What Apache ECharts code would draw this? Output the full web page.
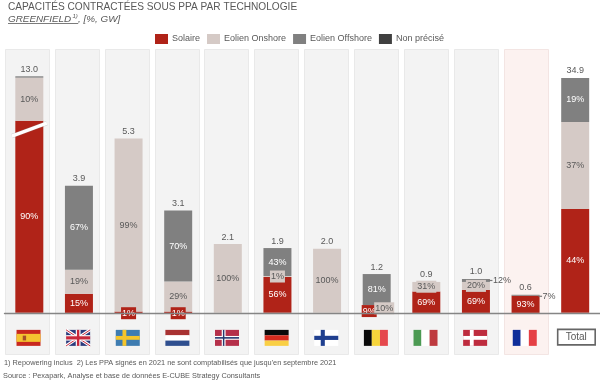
<!DOCTYPE html>
<html><head><meta charset="utf-8">
<style>html,body{margin:0;padding:0;background:#fff}#c{width:600px;height:381px}</style>
<script src="https://cdn.jsdelivr.net/npm/echarts@6/dist/echarts.min.js"></script>
</head><body><div id="c"></div>
<script>
// Countries (flag codes), in chart order
const categories = ['ES','GB','SE','NL','NO','DE','FI','BE','IT','DK','FR','Total'];
const totalLabels = ['13.0','3.9','5.3','3.1','2.1','1.9','2.0','1.2','0.9','1.0','0.6','34.9'];
// Drawn segment heights (the Spain and Total bars use a broken / compressed scale in the source)
const solaire  = [5.84,0.58,0.04,0.04,0,1.09,0,0.11,0.65,0.70,0.52,3.16];
const onshore  = [1.31,0.73,5.26,0.91,2.09,0.03,1.95,0.12,0.29,0.24,0,2.64];
const offshore = [0.04,2.55,0,2.16,0,0.85,0,0.95,0,0.09,0.03,1.34];
const nonPrecise = [0,0,0,0,0,0,0,0,0,0,0,0];
// Printed shares
const solaireLabels  = ['90%','15%','1%','1%','','56%','','9%','69%','69%','93%','44%'];
const onshoreLabels  = ['10%','19%','99%','29%','100%','1%','100%','10%','31%','20%','','37%'];
const offshoreLabels = ['','67%','','70%','','43%','','81%','','12%','7%','19%'];
const legendNames = ['Solaire','Eolien Onshore','Eolien Offshore','Non précisé'];

const RED='#B02318', BEIGE='#D5CAC6', GREY='#808080', DARK='#404040', TXT='#595959';
const FONT='"Liberation Sans", Arial, sans-serif';

function labelled(values, labels, textColor, special){
  return values.map((v,i)=>{
    const s=special[i]||{};
    return {value:v,label:Object.assign({show:!!labels[i] && !s.hide, formatter:labels[i]||' ', color:textColor, fontSize:9, fontFamily:FONT, position:'inside'},s)};
  });
}
const badge=(bg,fg,off)=>({backgroundColor:bg,color:fg,padding:[2,1,1,1],position:'inside',offset:off||[0,0]});
const solSpecial={2:badge(RED,'#fff',[0,1]),3:badge(RED,'#fff',[0,1]),7:badge(RED,'#fff',[-7.5,0])};
const onSpecial={5:badge(BEIGE,TXT),7:badge(BEIGE,TXT,[7.5,1]),8:badge(BEIGE,TXT),9:badge(BEIGE,TXT)};
const offSpecial={9:{hide:true},10:{hide:true}};

function barSeries(name,values,labels,color,textColor,special){
  return {name,type:'bar',stack:'s',barWidth:28,z:3,itemStyle:{color},
    data:labelled(values,labels,textColor,special)};
}

function flagShapes(code,cx,y0){
  const W=24,H=16,x0=cx-W/2;
  const R=(x,y,w,h,fill)=>({type:'rect',shape:{x:x0+x*W,y:y0+y*H,width:w*W,height:h*H},style:{fill}});
  const L=(a,b,c,d,stroke,lw)=>({type:'line',shape:{x1:x0+a*W,y1:y0+b*H,x2:x0+c*W,y2:y0+d*H},style:{stroke,lineWidth:lw}});
  const nordic=(bg,cross,inner)=>{
    const o=[R(0,0,1,1,bg),R(0,0.38,1,0.24,cross),R(0.28,0,0.16,1,cross)];
    if(inner) o.push(R(0,0.45,1,0.1,inner),R(0.33,0,0.06,1,inner));
    return o;
  };
  switch(code){
    case 'ES': return [R(0,0,1,1,'#C8281E'),R(0,0.25,1,0.5,'#F4C430'),R(0.26,0.36,0.14,0.3,'#A5502A')];
    case 'GB': return [R(0,0,1,1,'#2A3A7C'),L(0,0,1,1,'#fff',3),L(1,0,0,1,'#fff',3),L(0,0,1,1,'#C8283C',1),L(1,0,0,1,'#C8283C',1),
                       R(0.4,0,0.2,1,'#fff'),R(0,0.33,1,0.34,'#fff'),R(0.45,0,0.1,1,'#C8283C'),R(0,0.4,1,0.2,'#C8283C')];
    case 'SE': return nordic('#3E7CB1','#F5C52B');
    case 'NL': return [R(0,0,1,0.34,'#A83232'),R(0,0.34,1,0.33,'#fff'),R(0,0.67,1,0.33,'#2F4F8F')];
    case 'NO': return nordic('#B5304A','#fff','#26396F');
    case 'DE': return [R(0,0,1,0.34,'#0A0A0A'),R(0,0.34,1,0.33,'#D52B1E'),R(0,0.67,1,0.33,'#F9CF45')];
    case 'FI': return [R(0,0,1,1,'#fff'),R(0,0.37,1,0.26,'#1F3F8F'),R(0.27,0,0.17,1,'#1F3F8F')];
    case 'BE': return [R(0,0,0.33,1,'#0A0A0A'),R(0.33,0,0.34,1,'#F6D53C'),R(0.67,0,0.33,1,'#E5484D')];
    case 'IT': return [R(0,0,0.33,1,'#4C9A53'),R(0.33,0,0.34,1,'#fff'),R(0.67,0,0.33,1,'#BE3A3F')];
    case 'DK': return nordic('#BE2C3E','#fff');
    case 'FR': return [R(0,0,0.33,1,'#0F2E9A'),R(0.33,0,0.34,1,'#fff'),R(0.67,0,0.33,1,'#E54045')];
  }
  return [];
}

const idx=categories.map((_,i)=>i);

const panelSeries={type:'custom',z:1,silent:true,data:idx.slice(0,11),
  renderItem(p,api){
    const i=api.value(0), a=api.coord([i,8.02]), b=api.coord([i,-1.25]);
    const fr=categories[i]==='FR';
    const pcx=a[0]-2.3+0.23*i;
    return {type:'rect',shape:{x:Math.round(pcx-22)+.5,y:a[1]+.5,width:44,height:b[1]-a[1]},
      style:{fill:fr?'#FCF2F0':'#F3F3F3',stroke:fr?'#F3E5E3':'#E9E9E9',lineWidth:1}};
  },encode:{x:0,y:-1}};

const overlaySeries={type:'custom',z:6,silent:true,data:idx,
  renderItem(p,api){
    const i=api.value(0), base=api.coord([i,0]), cx=base[0];
    const top=solaire[i]+onshore[i]+offshore[i]+nonPrecise[i];
    const t=api.coord([i,top]);
    const kids=[{type:'text',style:{text:totalLabels[i],x:cx,y:t[1]-7,align:'center',verticalAlign:'middle',fill:TXT,font:'9px '+FONT}}];
    if(categories[i]==='Total'){
      kids.push({type:'rect',shape:{x:cx-17.5,y:base[1]+16.5,width:37.5,height:15.5},style:{fill:'#fff',stroke:'#666',lineWidth:1.6}});
      kids.push({type:'text',style:{text:'Total',x:cx+1,y:base[1]+24.5,align:'center',verticalAlign:'middle',fill:TXT,font:'10px '+FONT}});
    } else {
      flagShapes(categories[i],cx-0.8,base[1]+17).forEach(s=>kids.push(s));
    }
    if(categories[i]==='ES'){
      const y=api.coord([i,5.57])[1];
      kids.push({type:'line',shape:{x1:cx-17.5,y1:y+6.5,x2:cx+17.5,y2:y-6.5},style:{stroke:'#8a8a8a',lineWidth:4.6,opacity:.3}});
      kids.push({type:'line',shape:{x1:cx-17.5,y1:y+6.5,x2:cx+17.5,y2:y-6.5},style:{stroke:'#fff',lineWidth:3.4}});
    }
    if(categories[i]==='DK'||categories[i]==='FR'){
      const y=t[1]+1.5;
      kids.push({type:'line',shape:{x1:cx+13,y1:y,x2:cx+16.5,y2:y},style:{stroke:'#777',lineWidth:1.2}});
      kids.push({type:'text',style:{text:offshoreLabels[i],x:cx+17,y:y+0.5,align:'left',verticalAlign:'middle',fill:TXT,font:'9px '+FONT}});
    }
    return {type:'group',children:kids};
  },encode:{x:0,y:-1}};

const gText=(text,x,y,font,extra)=>Object.assign({type:'text',x,y,style:{text,font,fill:TXT}},extra||{});

const chart=echarts.init(document.getElementById('c'),null,{renderer:'canvas'});
chart.setOption({
  animation:false,
  backgroundColor:'#fff',
  grid:{left:4.5,right:-5,top:49,bottom:27,containLabel:false},
  xAxis:{type:'category',data:categories,z:5,axisTick:{show:false},axisLabel:{show:false},
    axisLine:{show:true,onZero:true,lineStyle:{color:'#858585',width:1.4}}},
  yAxis:{type:'value',min:-1.25,max:8.02,show:false,splitLine:{show:false}},
  legend:{data:legendNames,left:150,top:29,itemWidth:13,itemHeight:10,itemGap:7,icon:'rect',
    textStyle:{color:TXT,fontSize:9,fontFamily:FONT,padding:[1,0,0,-1]}},
  series:[
    panelSeries,
    barSeries(legendNames[0],solaire,solaireLabels,RED,'#fff',solSpecial),
    barSeries(legendNames[1],onshore,onshoreLabels,BEIGE,TXT,onSpecial),
    barSeries(legendNames[2],offshore,offshoreLabels,GREY,'#fff',offSpecial),
    barSeries(legendNames[3],nonPrecise,categories.map(()=>''),DARK,'#fff',{}),
    overlaySeries
  ],
  graphic:[
    gText('CAPACITÉS CONTRACTÉES SOUS PPA PAR TECHNOLOGIE',8,2,'10.15px '+FONT),
    gText('GREENFIELD',8,14,'italic 9.9px '+FONT),
    {type:'line',shape:{x1:8,y1:23.5,x2:78,y2:23.5},style:{stroke:TXT,lineWidth:.8}},
    gText('1)',72.5,13,'italic 6px '+FONT),
    gText(', [%, GW]',78,14,'italic 9.9px '+FONT),
    gText("1) Repowering inclus  2) Les PPA signés en 2021 ne sont comptabilisés que jusqu'en septembre 2021",4,359,'7.35px '+FONT),
    gText('Source : Pexapark, Analyse et base de données E-CUBE Strategy Consultants',3,372,'7.35px '+FONT)
  ]
});
</script></body></html>
